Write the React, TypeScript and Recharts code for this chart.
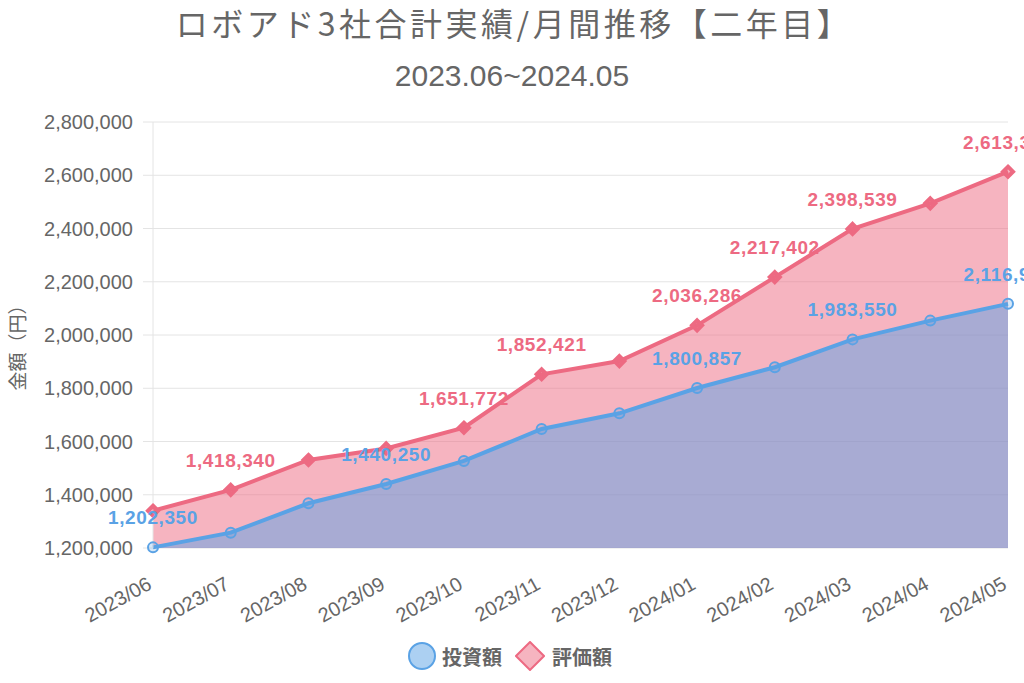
import { AreaChart, Area, XAxis, YAxis, CartesianGrid, LabelList } from 'recharts';

const months = [
  '2023/06', '2023/07', '2023/08', '2023/09', '2023/10', '2023/11',
  '2023/12', '2024/01', '2024/02', '2024/03', '2024/04', '2024/05',
];
const investment = [
  1202350, 1257500, 1368000, 1440250, 1527000, 1647000,
  1706000, 1800857, 1879000, 1983550, 2054000, 2116950,
];
const valuation = [
  1340000, 1418340, 1530500, 1574000, 1651772, 1852421,
  1902000, 2036286, 2217402, 2398539, 2494500, 2613300,
];
const yTicks = [1200000, 1400000, 1600000, 1800000, 2000000, 2200000, 2400000, 2600000, 2800000];
// labels that survive the overlap hiding in the original
const investLabelIdx = [0, 3, 7, 9, 11];
const valueLabelIdx = [1, 4, 5, 7, 8, 9, 11];

const data = months.map((month, i) => ({
  month,
  invest: investment[i],
  value: valuation[i],
}));

const BLUE = '#5aa2e5';
const PINK = '#ed6a82';
const GRID = '#e4e4e4';
const TEXT = '#666';
const LATIN = '"Liberation Sans", Arial, sans-serif';
const CJK = '"Noto Sans CJK JP", sans-serif';

const fmt = (v: number) => v.toLocaleString('en-US');

function makeLabel(color: string, shown: number[]) {
  return (props: any) => {
    const { x, y, index, value } = props;
    if (!shown.includes(index)) return null;
    return (
      <text
        x={x}
        y={y - 23}
        textAnchor="middle"
        fill={color}
        fontSize={19}
        fontWeight="bold"
        fontFamily={LATIN}
        letterSpacing={0.6}
      >
        {fmt(value)}
      </text>
    );
  };
}

function XTick({ x, payload }: any) {
  return (
    <text
      transform={`translate(${x},588) rotate(-29)`}
      textAnchor="end"
      fill={TEXT}
      fontSize={20}
      fontFamily={LATIN}
    >
      {payload.value}
    </text>
  );
}

function Diamond({ cx, cy, size = 5, fill, stroke, strokeWidth = 2 }: any) {
  if (cx == null || cy == null) return null;
  return (
    <polygon
      points={`${cx},${cy - size} ${cx + size},${cy} ${cx},${cy + size} ${cx - size},${cy}`}
      fill={fill}
      stroke={stroke}
      strokeWidth={strokeWidth}
    />
  );
}

export default function App() {
  return (
    <div style={{ position: 'relative', width: 1024, height: 683, overflow: 'hidden', background: '#fff' }}>
      <style>{'body{margin:0}'}</style>
      <div
        style={{
          position: 'absolute', top: 5, left: 12, width: 1004, textAlign: 'center',
          fontSize: 32, lineHeight: '34px', color: TEXT, fontFamily: CJK, letterSpacing: 3.5,
          whiteSpace: 'nowrap',
        }}
      >
        ロボアド3社合計実績/月間推移【二年目】
      </div>
      <div
        style={{
          position: 'absolute', top: 61, left: 0, width: 1024, textAlign: 'center',
          fontSize: 30, lineHeight: '30px', color: TEXT, fontFamily: LATIN,
        }}
      >
        2023.06~2024.05
      </div>
      <div
        style={{
          position: 'absolute', left: 16, top: 343, transform: 'translate(-50%,-50%) rotate(-90deg)',
          whiteSpace: 'nowrap', fontSize: 19, color: TEXT, fontFamily: CJK,
        }}
      >
        金額（円）
      </div>

      <AreaChart
        width={1024}
        height={683}
        data={data}
        margin={{ top: 122, right: 16, bottom: 0, left: 0 }}
      >
        <CartesianGrid stroke={GRID} vertical={false} />
        <XAxis dataKey="month" axisLine={false} tickLine={false} tick={<XTick />} height={135} interval={0} />
        <YAxis
          width={153}
          domain={[1200000, 2800000]}
          ticks={yTicks}
          tickFormatter={fmt}
          axisLine={{ stroke: GRID }}
          tickLine={{ stroke: GRID }}
          tickSize={10}
          tickMargin={10}
          tick={{ fill: TEXT, fontSize: 20, fontFamily: LATIN }}
        />
        <Area
          dataKey="value"
          type="linear"
          stroke={PINK}
          strokeWidth={4}
          fill={PINK}
          fillOpacity={0.5}
          dot={<Diamond fill="rgba(237,106,130,0.5)" stroke={PINK} />}
          isAnimationActive={false}
        >
          <LabelList dataKey="value" content={makeLabel(PINK, valueLabelIdx)} />
        </Area>
        <Area
          dataKey="invest"
          type="linear"
          stroke={BLUE}
          strokeWidth={4}
          fill={BLUE}
          fillOpacity={0.5}
          dot={{ r: 5, fill: 'rgba(90,162,229,0.5)', stroke: BLUE, strokeWidth: 2 }}
          isAnimationActive={false}
        >
          <LabelList dataKey="invest" content={makeLabel(BLUE, investLabelIdx)} />
        </Area>
      </AreaChart>

      <div
        style={{
          position: 'absolute', top: 641, left: 0, width: 1019, display: 'flex',
          justifyContent: 'center', alignItems: 'center', color: TEXT, fontFamily: CJK,
          fontSize: 20, fontWeight: 'bold',
        }}
      >
        <svg width={30} height={30} style={{ marginRight: 5 }}>
          <circle cx={15} cy={15} r={13} fill="rgba(90,162,229,0.5)" stroke={BLUE} strokeWidth={2} />
        </svg>
        <span style={{ marginRight: 13 }}>投資額</span>
        <svg width={30} height={30} style={{ marginRight: 7 }}>
          <Diamond cx={15} cy={15} size={14} fill="rgba(237,106,130,0.5)" stroke={PINK} />
        </svg>
        <span>評価額</span>
      </div>
    </div>
  );
}
